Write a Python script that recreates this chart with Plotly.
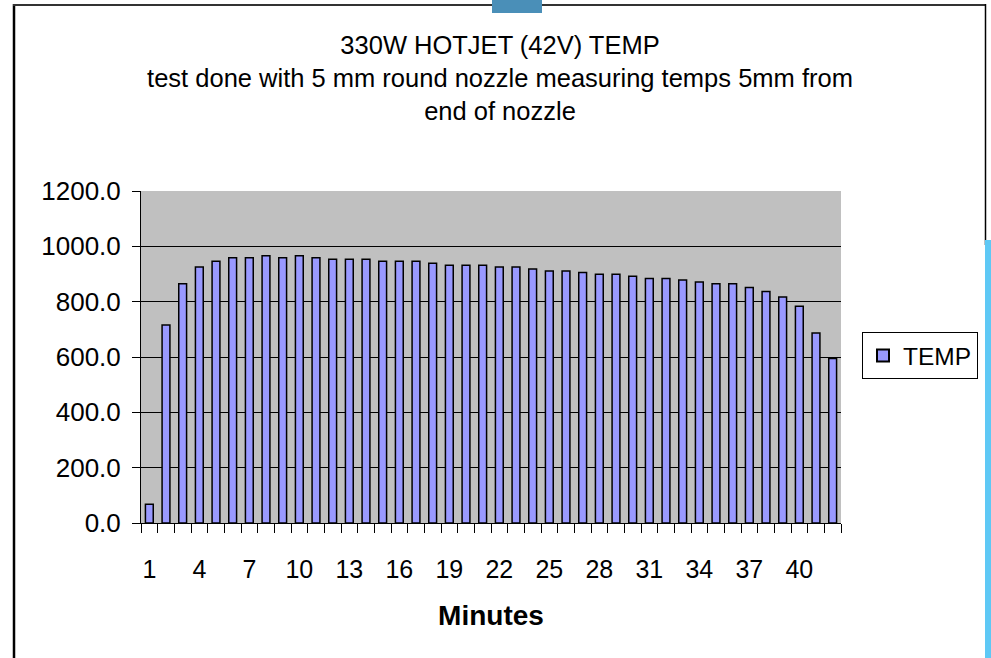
import plotly.graph_objects as go

# ---- data ----
minutes = list(range(1, 43))
temp = [68, 716, 865, 925, 946, 959, 959, 966, 959, 966,
        959, 953, 953, 953, 946, 946, 946, 939, 932, 932,
        932, 925, 925, 918, 911, 911, 905, 899, 899, 892,
        884, 884, 878, 871, 865, 865, 851, 837, 817, 783,
        687, 595]
x_tick_vals = list(range(1, 43, 3))
x_tick_text = [str(v) for v in x_tick_vals]
y_tick_vals = [0, 200, 400, 600, 800, 1000, 1200]
series_name = "TEMP"
title_lines = ["330W HOTJET (42V) TEMP",
               "test done with 5 mm round nozzle measuring temps 5mm from",
               "end of nozzle"]
x_title = "Minutes"

FONT = "Liberation Sans, Arial, sans-serif"
W, H = 991, 658
L, R, T, B = 141, 841, 191, 523  # plot area in px


def px_x(p):
    return (p - L) / (R - L)


def px_y(p):
    return (B - p) / (B - T)


fig = go.Figure()
fig.add_trace(go.Bar(
    x=minutes, y=temp, name=series_name, width=0.47,
    marker=dict(color="#9999FF", line=dict(color="black", width=1.5)),
    showlegend=True,
))

shapes = [
    # outer chart border (left / top / right partial)
    dict(type="line", xref="paper", yref="paper", x0=px_x(14), x1=px_x(14), y0=px_y(4), y1=px_y(660),
         line=dict(color="black", width=2.5)),
    dict(type="line", xref="paper", yref="paper", x0=px_x(13), x1=px_x(986), y0=px_y(5), y1=px_y(5),
         line=dict(color="#333333", width=2)),
    dict(type="line", xref="paper", yref="paper", x0=px_x(985.5), x1=px_x(985.5), y0=px_y(4), y1=px_y(245),
         line=dict(color="black", width=1.5)),
    # blue screen artifacts
    dict(type="rect", xref="paper", yref="paper", x0=px_x(985), x1=px_x(992), y0=px_y(240), y1=px_y(660),
         fillcolor="#5EC8F5", line=dict(width=0)),
    dict(type="rect", xref="paper", yref="paper", x0=px_x(492), x1=px_x(542), y0=px_y(-2), y1=px_y(13),
         fillcolor="#4A8FB8", line=dict(width=0), layer="above"),
]

fig.update_layout(
    width=W, height=H,
    margin=dict(l=L, r=W - R, t=T, b=H - B, pad=0),
    paper_bgcolor="white",
    plot_bgcolor="#C0C0C0",
    font=dict(family=FONT, size=25, color="black"),
    title=dict(text="<br>".join(title_lines), x=0.5 + 9 / (R - L), xref="paper", xanchor="center",
               y=1 - 54 / H, yref="container", yanchor="top",
               font=dict(family=FONT, size=25.5, color="black")),
    showlegend=True,
    legend=dict(x=px_x(862), xanchor="left", y=px_y(355.5), yanchor="middle",
                bgcolor="white", bordercolor="black", borderwidth=1,
                font=dict(family=FONT, size=24.5, color="black"),
                itemsizing="constant"),
    shapes=shapes,
)

fig.update_xaxes(
    type="linear", range=[0.5, 42.5],
    tickmode="array", tickvals=x_tick_vals, ticktext=x_tick_text,
    ticks="", showgrid=False, zeroline=False,
    showline=True, linecolor="black", linewidth=1,
    ticklabelstandoff=24,
    tickfont=dict(family=FONT, size=25),
    minor=dict(tickmode="array", tickvals=[i + 0.5 for i in range(0, 43)],
               ticks="outside", ticklen=9, tickcolor="black", tickwidth=1, showgrid=False),
    title=dict(text="<b>" + x_title + "</b>", font=dict(family=FONT, size=28), standoff=23),
)
fig.update_yaxes(
    range=[0, 1200], tickmode="array", tickvals=y_tick_vals, tickformat=".1f",
    ticks="outside", ticklen=8, tickcolor="black", tickwidth=1,
    showgrid=True, gridcolor="black", gridwidth=1, zeroline=False,
    showline=True, linecolor="black", linewidth=1,
    ticklabelstandoff=6,
    tickfont=dict(family=FONT, size=26),
)

fig.write_html(
    "out.html",
    config={"displayModeBar": False},
    post_script="document.body.style.margin='0';document.body.style.overflow='hidden';"
                "document.documentElement.style.overflow='hidden';",
)
